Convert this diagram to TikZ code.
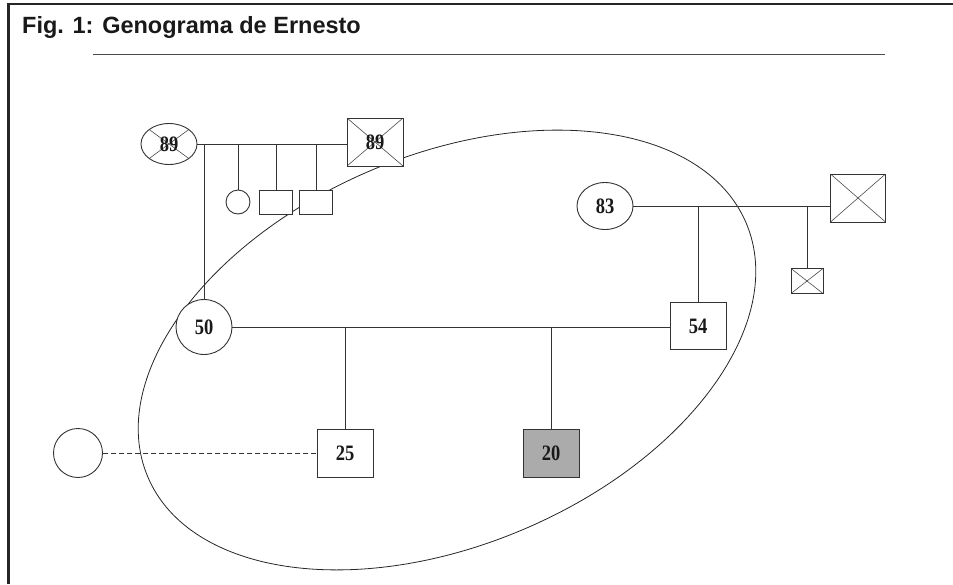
\documentclass[tikz,border=0pt]{standalone}
\usepackage{graphicx}
\usepackage{fontspec}
\setmainfont{Liberation Serif}
\newfontfamily\titlefont{Liberation Sans}
\usetikzlibrary{shapes.geometric}

% ages written inside the symbols
\newcommand\agetext[1]{\scalebox{0.84}[1]{\bfseries\fontsize{22}{22}\selectfont #1}}

\begin{document}
\begin{tikzpicture}[x=1pt,y=-1pt,
  line/.style={draw=black!80, line width=0.9pt},
  person/.style={line, fill=white, inner sep=0pt, text=black!90},
  male/.style={person, rectangle},
  female/.style={person, ellipse},
  deceased/.style={path picture={
    \draw[black!70, line width=0.6pt]
      (path picture bounding box.north west) -- (path picture bounding box.south east)
      (path picture bounding box.north east) -- (path picture bounding box.south west);}},
  index/.style={male, fill=black!33},
  union/.style={line},
  kin/.style={line},
  partner/.style={line, dash pattern=on 5pt off 3pt}]
\useasboundingbox (0,0) rectangle (953,584);

% frame and heading
\draw[black!85, line width=2.5pt] (953,4) -- (8.5,4) -- (8.5,584);
\node[anchor=base west, inner sep=0pt, text=black!90,
      font=\titlefont\bfseries\fontsize{23.5}{23.5}\selectfont] (title) at (22,33)
      {Fig. 1: Genograma de Ernesto};
\draw[black!70, line width=0.9pt] (93,54) -- (885,54);

% household boundary
\draw[black!85, line width=0.8pt, rotate around={23:(447,350)}]
  (447,350) ellipse [x radius=325pt, y radius=195pt];

% maternal grandparents and their children
\node[female, deceased, minimum width=56pt, minimum height=41pt] (gmA) at (169,144) {\agetext{89}};
\node[male, deceased, minimum width=56pt, minimum height=48pt] (gpA) at (375,142) {\agetext{89}};
\node[female, minimum width=24pt, minimum height=24pt] (auntA) at (238,202) {};
\node[male, minimum width=33pt, minimum height=24pt] (uncleA) at (276,202) {};
\node[male, minimum width=33pt, minimum height=24pt] (uncleB) at (316,202) {};

% paternal grandparents and their children
\node[female, minimum width=56pt, minimum height=47pt] (gmB) at (605,206) {\agetext{83}};
\node[male, deceased, minimum width=55pt, minimum height=48pt] (gpB) at (858,198) {};
\node[male, deceased, minimum width=32pt, minimum height=25pt] (uncleC) at (807,281) {};

% parents
\node[female, minimum width=56pt, minimum height=55pt] (mother) at (204,327) {\agetext{50}};
\node[male, minimum width=56pt, minimum height=47pt] (father) at (698,326) {\agetext{54}};

% children and partner
\node[male, minimum width=56pt, minimum height=48pt] (son) at (345,453) {\agetext{25}};
\node[index, minimum width=56pt, minimum height=48pt] (ernesto) at (551,453) {\agetext{20}};
\node[female, minimum width=49pt, minimum height=49pt] (partnerL) at (78,453) {};

% unions
\draw[union] (gmA.east) -- (gmA.east -| gpA.west);
\draw[union] (gmB.east) -- (gmB.east -| gpB.west);
\draw[union] (mother.east) -- (mother.east -| father.west);
\draw[partner] (partnerL.east) -- (partnerL.east -| son.west);

% descent lines
\draw[kin] (mother.north) -- (mother.north |- gmA.east);
\draw[kin] (auntA.north) -- (auntA.north |- gmA.east);
\draw[kin] (uncleA.north) -- (uncleA.north |- gmA.east);
\draw[kin] (uncleB.north) -- (uncleB.north |- gmA.east);
\draw[kin] (father.north) -- (father.north |- gmB.east);
\draw[kin] (uncleC.north) -- (uncleC.north |- gmB.east);
\draw[kin] (son.north) -- (son.north |- mother.east);
\draw[kin] (ernesto.north) -- (ernesto.north |- mother.east);
\end{tikzpicture}
\end{document}
